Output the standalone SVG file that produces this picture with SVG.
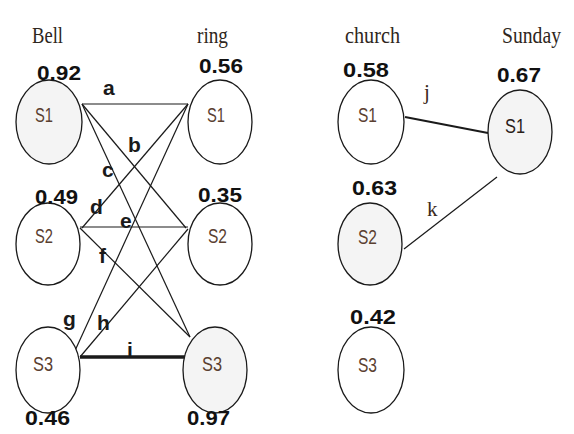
<svg xmlns="http://www.w3.org/2000/svg" width="574" height="434" viewBox="0 0 574 434">
<style>
.n{fill:#ffffff;stroke:#1a1a1a;stroke-width:1.3}
.g{fill:#f4f4f4}
.h{font-family:"Liberation Serif",serif;font-size:23px;fill:#2e2620}
.v{font-family:"Liberation Sans",sans-serif;font-size:21px;font-weight:bold;fill:#111}
.s{font-family:"Liberation Sans",sans-serif;font-size:20px;fill:#5a4030}
.e{font-family:"Liberation Sans",sans-serif;font-size:21px;font-weight:bold;fill:#1a1a1a}
.es{font-family:"Liberation Serif",serif;font-size:21px;fill:#3a2a20}
.c line{stroke:#1a1a1a;stroke-width:1.2}
</style>
<rect width="574" height="434" fill="#fff"/>
<g id="headers">
<text class="h" x="32" y="43" textLength="31" lengthAdjust="spacingAndGlyphs">Bell</text>
<text class="h" x="197" y="43" textLength="31" lengthAdjust="spacingAndGlyphs">ring</text>
<text class="h" x="345" y="43" textLength="55" lengthAdjust="spacingAndGlyphs">church</text>
<text class="h" x="502" y="43" textLength="59" lengthAdjust="spacingAndGlyphs">Sunday</text>
</g>
<g class="c" id="connectors">
<line x1="82" y1="104" x2="188" y2="104"/>
<line x1="82" y1="104" x2="186" y2="228"/>
<line x1="82" y1="104" x2="190" y2="337"/>
<line x1="188" y1="104" x2="82" y2="228"/>
<line x1="80" y1="227" x2="188" y2="227"/>
<line x1="80" y1="228" x2="190" y2="337"/>
<line x1="188" y1="104" x2="73" y2="355"/>
<line x1="80" y1="357" x2="188" y2="229"/>
<line x1="80" y1="357" x2="190" y2="357" style="stroke-width:3.5"/>
<line x1="405" y1="117" x2="488" y2="133" style="stroke-width:1.8"/>
<line x1="404" y1="249" x2="497" y2="177"/>
</g>
<g id="edge-labels">
<text class="e" x="103" y="95">a</text>
<text class="e" x="128" y="152">b</text>
<text class="e" x="102" y="177">c</text>
<text class="e" x="90" y="214">d</text>
<text class="e" x="120" y="228">e</text>
<text class="e" x="99" y="263">f</text>
<text class="e" x="63" y="326">g</text>
<text class="e" x="97" y="330">h</text>
<text class="e" x="127" y="357">i</text>
<text class="es" x="424" y="99">j</text>
<text class="es" x="427" y="216">k</text>
</g>
<g id="bell-s1">
<ellipse class="n g" cx="49" cy="122" rx="33" ry="42"/>
<text class="s" x="35" y="122" textLength="18" lengthAdjust="spacingAndGlyphs">S1</text>
<text class="v" x="37" y="80" textLength="44" lengthAdjust="spacingAndGlyphs">0.92</text>
</g>
<g id="ring-s1">
<ellipse class="n" cx="220" cy="122" rx="32" ry="42"/>
<text class="s" x="207" y="122" textLength="18" lengthAdjust="spacingAndGlyphs">S1</text>
<text class="v" x="199" y="73" textLength="44" lengthAdjust="spacingAndGlyphs">0.56</text>
</g>
<g id="bell-s2">
<ellipse class="n" cx="48" cy="244" rx="32" ry="41"/>
<text class="s" x="35" y="243" textLength="18" lengthAdjust="spacingAndGlyphs">S2</text>
<text class="v" x="35" y="204" textLength="43" lengthAdjust="spacingAndGlyphs">0.49</text>
</g>
<g id="ring-s2">
<ellipse class="n" cx="220" cy="244" rx="32" ry="41"/>
<text class="s" x="208" y="243" textLength="19" lengthAdjust="spacingAndGlyphs">S2</text>
<text class="v" x="198" y="202" textLength="44" lengthAdjust="spacingAndGlyphs">0.35</text>
</g>
<g id="bell-s3">
<ellipse class="n" cx="48" cy="370" rx="32" ry="43"/>
<text class="s" x="33" y="371" textLength="20" lengthAdjust="spacingAndGlyphs">S3</text>
<text class="v" x="25" y="425" textLength="45" lengthAdjust="spacingAndGlyphs">0.46</text>
</g>
<g id="ring-s3">
<ellipse class="n g" cx="215" cy="370" rx="32" ry="43"/>
<text class="s" x="202" y="371" textLength="20" lengthAdjust="spacingAndGlyphs">S3</text>
<text class="v" x="187" y="425" textLength="43" lengthAdjust="spacingAndGlyphs">0.97</text>
</g>
<g id="church-s1">
<ellipse class="n" cx="371" cy="122" rx="33" ry="42"/>
<text class="s" x="358" y="122" textLength="19" lengthAdjust="spacingAndGlyphs">S1</text>
<text class="v" x="343" y="77" textLength="46" lengthAdjust="spacingAndGlyphs">0.58</text>
</g>
<g id="sunday-s1">
<ellipse class="n g" cx="520" cy="132" rx="32" ry="42"/>
<text class="s" x="505" y="133" textLength="20" lengthAdjust="spacingAndGlyphs" style="fill:#2a2018">S1</text>
<text class="v" x="497" y="82" textLength="44" lengthAdjust="spacingAndGlyphs">0.67</text>
</g>
<g id="church-s2">
<ellipse class="n g" cx="370" cy="244" rx="32" ry="41"/>
<text class="s" x="358" y="244" textLength="19" lengthAdjust="spacingAndGlyphs">S2</text>
<text class="v" x="352" y="195" textLength="45" lengthAdjust="spacingAndGlyphs">0.63</text>
</g>
<g id="church-s3">
<ellipse class="n" cx="371" cy="370" rx="33" ry="43"/>
<text class="s" x="358" y="372" textLength="19" lengthAdjust="spacingAndGlyphs">S3</text>
<text class="v" x="350" y="324" textLength="46" lengthAdjust="spacingAndGlyphs">0.42</text>
</g>
</svg>
